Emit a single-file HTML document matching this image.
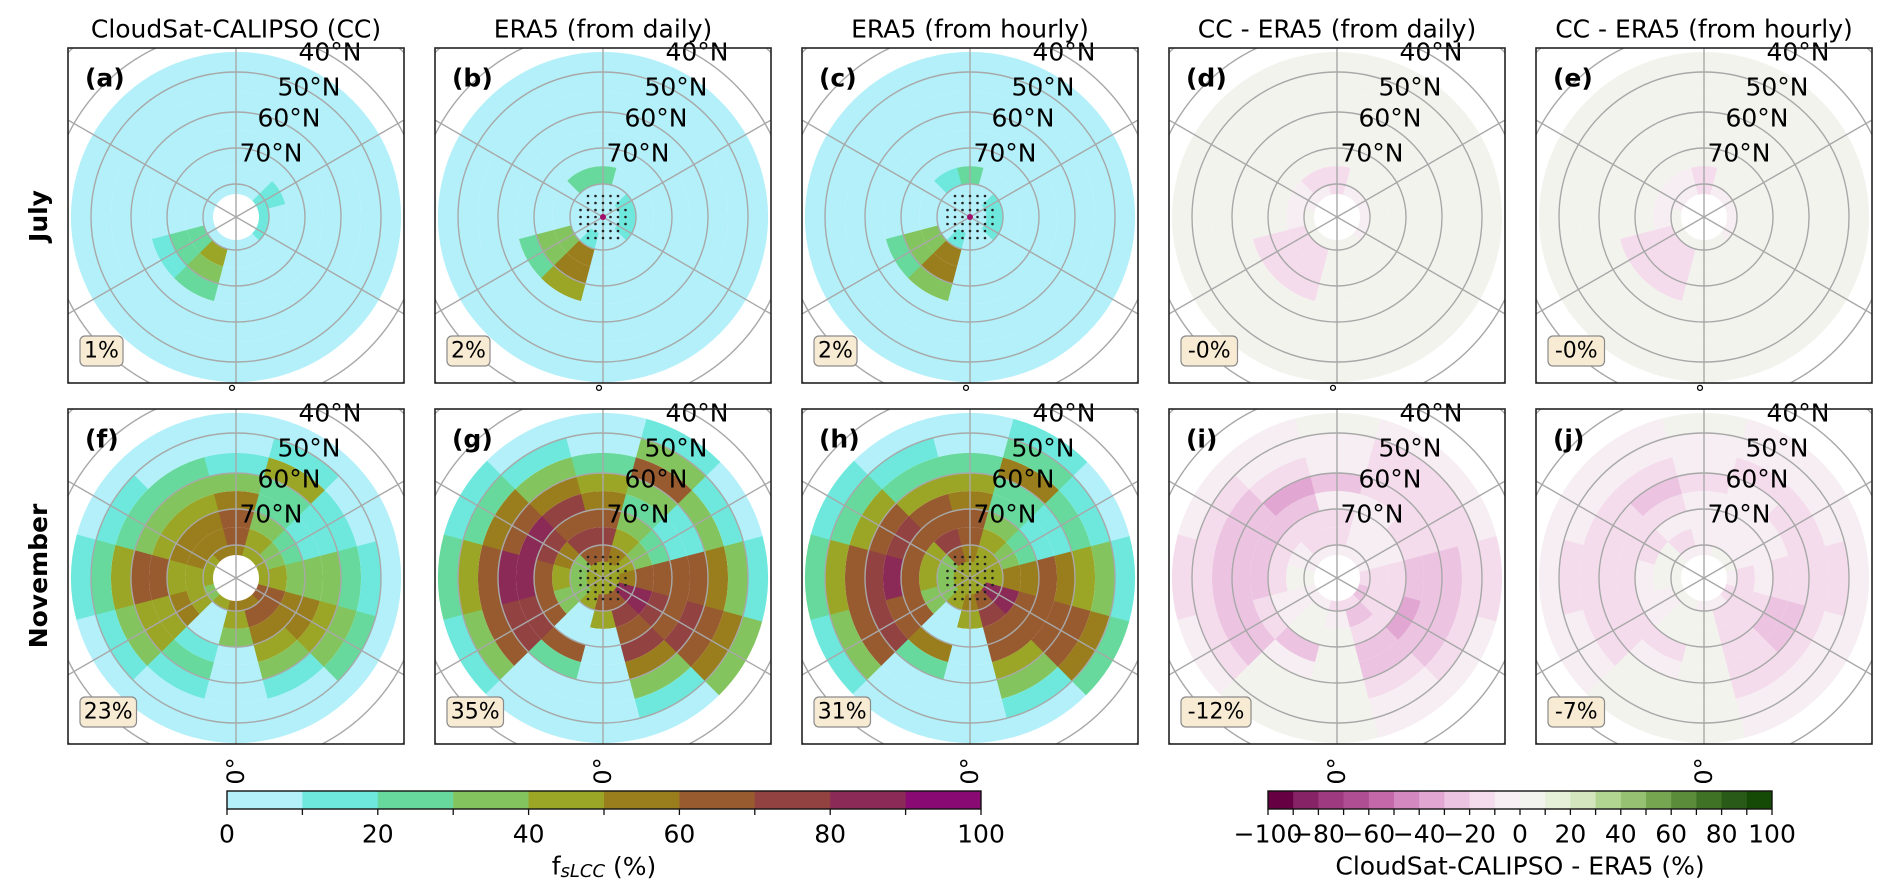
<!DOCTYPE html>
<html><head><meta charset="utf-8">
<style>
html,body{margin:0;padding:0;background:#fff;overflow:hidden;width:1892px;height:896px;}
svg{display:block;font-family:"DejaVu Sans","Liberation Sans",sans-serif;}
</style></head>
<body>
<svg id="fig" width="1892" height="896" viewBox="0 0 1892 896" xmlns="http://www.w3.org/2000/svg">
<defs id="defs"></defs>
<text x="40" y="216" font-size="25" font-weight="bold" text-anchor="middle" dominant-baseline="middle" transform="rotate(-90 40 216)">July</text>
<text x="40" y="576" font-size="25" font-weight="bold" text-anchor="middle" dominant-baseline="middle" transform="rotate(-90 40 576)">November</text>
<g id="panels"></g>
<g id="cbars"></g>
</svg>
<script>
// ---- data: sectors (longitude centres) and latitude ring edges ----
const lonCenters = [0,30,60,90,120,150,180,-150,-120,-90,-60,-30];
const ringEdges = [85,80,75,70,65,60,55,50,45];
const latLabels = ["40°N","50°N","60°N","70°N"];
const fTicks = [0,20,40,60,80,100];
const dTicks = [-100,-80,-60,-40,-20,0,20,40,60,80,100];
const percentLabels = ["1%","2%","2%","-0%","-0%","23%","35%","31%","-12%","-7%"];
const panelTitles = ["CloudSat-CALIPSO (CC)","ERA5 (from daily)","ERA5 (from hourly)","CC - ERA5 (from daily)","CC - ERA5 (from hourly)"];
const panelLetters = ["(a)","(b)","(c)","(d)","(e)","(f)","(g)","(h)","(i)","(j)"];
const centerValues = [null,5,5,null,null,null,45,42,null,null];

const julCC = [
[5,5,5,5,5,5,5,5],[5,5,5,5,5,5,5,5],[10,5,5,5,5,5,5,5],[15,5,5,5,5,5,5,5],
[15,10,5,5,5,5,5,5],[5,5,5,5,5,5,5,5],[5,5,5,5,5,5,5,5],[5,5,5,5,5,5,5,5],
[5,5,5,5,5,5,5,5],[5,5,5,5,5,5,5,5],[5,20,25,15,5,5,5,5],[5,45,35,20,5,5,5,5]];
const julEraDaily = [
[5,5,5,5,5,5,5,5],[5,5,5,5,5,5,5,5],[10,5,5,5,5,5,5,5],[15,5,5,5,5,5,5,5],
[10,5,5,5,5,5,5,5],[5,5,5,5,5,5,5,5],[5,20,5,5,5,5,5,5],[5,20,5,5,5,5,5,5],
[5,5,5,5,5,5,5,5],[5,5,5,5,5,5,5,5],[5,30,35,25,5,5,5,5],[10,55,55,40,5,5,5,5]];
const julEraHourly = [
[5,5,5,5,5,5,5,5],[5,5,5,5,5,5,5,5],[10,5,5,5,5,5,5,5],[15,5,5,5,5,5,5,5],
[10,5,5,5,5,5,5,5],[5,5,5,5,5,5,5,5],[5,20,5,5,5,5,5,5],[5,15,5,5,5,5,5,5],
[5,5,5,5,5,5,5,5],[5,5,5,5,5,5,5,5],[5,30,35,25,5,5,5,5],[10,50,55,35,5,5,5,5]];
const julDiffDaily = [
[0,0,0,0,0,0,0,0],[0,0,0,0,0,0,0,0],[-5,0,0,0,0,0,0,0],[-5,0,0,0,0,0,0,0],
[-5,0,0,0,0,0,0,0],[-5,0,0,0,0,0,0,0],[-15,-15,0,0,0,0,0,0],[-10,-15,0,0,0,0,0,0],
[-5,-5,0,0,0,0,0,0],[0,-5,0,0,0,0,0,0],[0,-15,-15,-15,0,0,0,0],[0,-15,-20,-15,0,0,0,0]];
const julDiffHourly = [
[0,0,0,0,0,0,0,0],[0,0,0,0,0,0,0,0],[-5,0,0,0,0,0,0,0],[-5,0,0,0,0,0,0,0],
[-5,0,0,0,0,0,0,0],[-5,0,0,0,0,0,0,0],[-15,-15,0,0,0,0,0,0],[-10,-10,0,0,0,0,0,0],
[-5,-5,0,0,0,0,0,0],[0,-5,0,0,0,0,0,0],[0,-15,-15,-15,0,0,0,0],[0,-15,-15,-15,0,0,0,0]];
const novCC = [
[50,45,30,5,5,5,5,5],[55,60,50,45,30,15,5,5],[60,65,55,50,45,35,20,8],[45,40,35,35,30,20,15,8],
[40,30,20,15,10,15,8,5],[45,40,30,20,25,40,15,5],[50,60,60,50,30,15,8,5],[50,55,50,45,30,20,8,5],
[45,50,55,45,35,20,10,5],[45,40,45,60,65,45,25,10],[30,40,55,45,40,30,15,5],[40,5,5,15,25,15,5,5]];
const novEraDaily = [
[60,45,5,5,5,5,5,5],[65,75,65,70,50,35,15,5],[85,85,70,65,70,65,55,30],[50,60,60,65,60,50,30,15],
[45,35,20,10,15,30,15,8],[50,45,35,20,30,60,30,10],[60,70,65,50,45,25,5,5],[65,75,65,70,50,30,10,5],
[35,50,70,80,65,50,25,10],[30,45,65,85,80,65,45,20],[30,35,65,70,75,65,30,10],[45,5,5,60,25,5,5,5]];
const novEraHourly = [
[55,45,5,5,5,5,5,5],[60,70,60,65,45,30,15,5],[80,80,65,60,65,60,50,25],[45,55,55,60,55,45,30,15],
[40,30,20,10,15,25,15,5],[45,45,30,20,25,55,25,10],[55,65,60,50,40,20,5,5],[60,70,65,65,45,25,10,5],
[35,45,65,75,60,45,20,10],[30,45,60,80,75,60,40,20],[30,35,60,65,70,60,30,10],[40,5,5,55,20,5,5,5]];
const novDiffDaily = [
[-15,-5,0,0,0,0,0,0],[-15,-25,-20,-30,-25,-20,-10,-5],[-25,-15,-20,-35,-30,-25,-15,-10],[-15,-20,-15,-25,-25,-30,-20,-15],
[-5,-5,-5,-15,-20,-20,-15,-10],[-5,-5,-10,-10,-15,-20,-15,-5],[-10,-15,-15,-10,-25,-10,-5,0],[-10,-20,-15,-25,-35,-20,-10,-5],
[-5,-5,-20,-25,-30,-25,-15,-10],[0,0,-15,-25,-25,-25,-20,-15],[-5,-5,-10,-20,-30,-25,-15,-5],[-5,0,0,-25,-10,0,0,0]];
const novDiffHourly = [
[-5,0,0,0,0,0,0,0],[-10,-15,-15,-20,-15,-15,-10,-5],[-20,-15,-15,-25,-25,-20,-10,-5],[-10,-15,-10,-20,-20,-20,-15,-10],
[0,-5,-5,-10,-15,-15,-10,-5],[0,-5,-5,-10,-10,-15,-10,-5],[-5,-10,-10,-5,-20,-5,-5,0],[-5,-15,-10,-20,-25,-15,-10,-5],
[0,0,-15,-20,-20,-20,-10,-5],[5,0,-10,-20,-20,-20,-15,-10],[0,-5,-10,-15,-20,-20,-10,-5],[0,0,0,-15,-5,0,0,0]];

const fields = [julCC,julEraDaily,julEraHourly,julDiffDaily,julDiffHourly,novCC,novEraDaily,novEraHourly,novDiffDaily,novDiffHourly];

// ---- styles / scales ----
const fColors = ["#b3f0f9","#6ee8dc","#67d99c","#84c45e","#9ba526","#9a7e1e","#985b30","#934242","#8c2a57","#8a0a73"];
const dColors = ["#660042","#862266","#9e3a80","#b04e94","#c468aa","#d488c0","#e1a6d2","#ecc4e2","#f4dcec","#f6eef2","#f3f3ee","#e6efd8","#d3e6be","#b1d692","#96c072","#76a650","#5b8c3a","#407226","#2a5a17","#144a06"];
const latTab = [[90,0],[85,16],[80,33],[75,51],[70,69],[65,87],[60,105],[55,125],[50,145],[45,165],[40,187],[30,235],[20,290]];
function rOf(lat){
  for(let i=0;i<latTab.length-1;i++){
    const a=latTab[i],b=latTab[i+1];
    if(lat<=a[0]&&lat>=b[0]) return a[1]+(b[1]-a[1])*(a[0]-lat)/(a[0]-b[0]);
  }
  return 300;
}
function fColor(v){let i=Math.floor(v/10);i=Math.max(0,Math.min(9,i));return fColors[i];}
function dColor(v){let i=Math.floor((v+100)/10);i=Math.max(0,Math.min(19,i));return dColors[i];}
function pt(cx,cy,r,lonDeg){const a=lonDeg*Math.PI/180;return [cx+r*Math.sin(a),cy+r*Math.cos(a)];}

const NS="http://www.w3.org/2000/svg";
function mk(tag,attrs,parent){const e=document.createElementNS(NS,tag);for(const k in attrs)e.setAttribute(k,attrs[k]);parent.appendChild(e);return e;}

const panelsG=document.getElementById('panels');
const defs=document.getElementById('defs');
const PX0=68, PDX=367, PW=336, PH=335, PY=[48,409];

for(let p=0;p<10;p++){
  const row=Math.floor(p/5), col=p%5;
  const x0=PX0+col*PDX, y0=PY[row];
  const cx=x0+168, cy=y0+169;
  const isDiff=(col>=3), isCC=(col===0);
  const data=fields[p];
  const clip=mk('clipPath',{id:'clip'+p},defs);
  mk('rect',{x:x0,y:y0,width:PW,height:PH},clip);
  const g=mk('g',{'clip-path':'url(#clip'+p+')'},panelsG);
  
  
  for(let s=0;s<lonCenters.length;s++){
    for(let k=0;k<ringEdges.length-1;k++){
      const v=data[s][k];
      const r1=rOf(ringEdges[k]), r2=rOf(ringEdges[k+1]);
      const l1=lonCenters[s]-15.3, l2=lonCenters[s]+15.3;
      const a=pt(cx,cy,r1,l1), b=pt(cx,cy,r1,l2), c=pt(cx,cy,r2,l2), d=pt(cx,cy,r2,l1);
      const path=`M${a[0]},${a[1]} A${r1},${r1} 0 0 0 ${b[0]},${b[1]} L${c[0]},${c[1]} A${r2},${r2} 0 0 1 ${d[0]},${d[1]} Z`;
      const cell=mk('path',{d:path,fill:isDiff?dColor(v):fColor(v)},g);
      
      
    }
  }
  const cv=centerValues[p];
  if(cv===null){
    const hole=mk('circle',{cx:cx,cy:cy,r:23,fill:'#fff'},g);
    
    
  } else {
    const cd=mk('circle',{cx:cx,cy:cy,r:16.5,fill:fColor(cv)},g);
    
    
  }
  [80,70,60,50,40,30,20].forEach(lat=>{
    const c=mk('circle',{cx:cx,cy:cy,r:rOf(lat),fill:'none',stroke:'#a8a8a8','stroke-width':1.4},g);
    
    
  });
  [0,60,120].forEach(lon=>{
    const a=pt(cx,cy,400,lon), b=pt(cx,cy,400,lon+180);
    const l=mk('line',{x1:a[0],y1:a[1],x2:b[0],y2:b[1],stroke:'#a8a8a8','stroke-width':1.4},g);
    
    
  });
  if(col===1||col===2){
    for(let i=-3;i<=3;i++)for(let j=-3;j<=3;j++){
      const dx=i*7.5,dy=j*7;
      if(dx*dx+dy*dy>26*26)continue;
      const dot=mk('circle',{cx:cx+dx,cy:cy+dy,r:1.3,fill:'#222'},g);
      
      
    }
    if(row===0){
      const m=mk('circle',{cx:cx,cy:cy,r:3,fill:'#a0106a'},g);
      
      
    }
  }
  const lx=[94,73,53,35], ly=[-165,-130,-99,-64];
  for(let i=0;i<latLabels.length;i++){
    const t=mk('text',{x:cx+lx[i],y:cy+ly[i],'font-size':25,'text-anchor':'middle','dominant-baseline':'central',fill:'#000'},panelsG);
    t.textContent=latLabels[i];
    
    
  }
  const fr=mk('rect',{x:x0,y:y0,width:PW,height:PH,fill:'none',stroke:'#222','stroke-width':1.6},panelsG);
  
  
  const lt=mk('text',{x:x0+17,y:y0+30,'font-size':25,'font-weight':'bold','dominant-baseline':'central'},panelsG);
  lt.textContent=panelLetters[p];
  
  
  const txt=percentLabels[p];
  const bw=txt.length*13.5+16;
  const bx=mk('rect',{x:x0+12,y:y0+288,width:bw,height:30,rx:5,fill:'#f8ebd3',stroke:'#8a8a8a','stroke-width':1.2},panelsG);
  
  
  const bt=mk('text',{x:x0+12+bw/2,y:y0+303,'font-size':22,'text-anchor':'middle','dominant-baseline':'central'},panelsG);
  bt.textContent=txt;
  
  
  if(row===0){
    const dg=mk('text',{x:cx-4,y:y0+PH+17,'font-size':20,'text-anchor':'middle'},panelsG);
    dg.textContent='°';
    
    
  } else {
    const dg=mk('text',{x:cx,y:y0+PH+27,'font-size':24,'text-anchor':'middle','dominant-baseline':'central',transform:`rotate(-90 ${cx} ${y0+PH+27})`},panelsG);
    dg.textContent='0°';
    
    
  }
  if(row===0){
    const tt=mk('text',{x:cx,y:29,'font-size':25,'text-anchor':'middle','dominant-baseline':'central'},panelsG);
    tt.textContent=panelTitles[col];
    
    
  }
}

const cb=document.getElementById('cbars');
function colorbar(x0,x1,vmin,vmax,colors,ticks,name){
  const y0=791,h=18,n=colors.length,w=(x1-x0)/n;
  const g=mk('g',{},cb);
  
  
  for(let i=0;i<n;i++){
    const r=mk('rect',{x:x0+i*w,y:y0,width:w+0.5,height:h,fill:colors[i]},g);
    
    
  }
  mk('rect',{x:x0,y:y0,width:x1-x0,height:h,fill:'none',stroke:'#111','stroke-width':1.4},g);
  for(let i=0;i<=n;i++){
    mk('line',{x1:x0+i*w,y1:y0+h,x2:x0+i*w,y2:y0+h+6,stroke:'#111','stroke-width':1.3},g);
  }
  ticks.forEach(v=>{
    const x=x0+(v-vmin)/(vmax-vmin)*(x1-x0);
    const t=mk('text',{x:x,y:834,'font-size':25,'text-anchor':'middle','dominant-baseline':'central'},g);
    t.textContent=(v<0?'\u2212'+(-v):String(v));
    
    
  });
  const l=mk('text',{x:(x0+x1)/2,y:866,'font-size':25,'text-anchor':'middle','dominant-baseline':'central'},g);
  
  
  return l;
}
const l1=colorbar(227,981,0,100,fColors,fTicks,'colorbar-fslcc');
l1.innerHTML='f<tspan font-size="18" font-style="italic" dy="5">sLCC</tspan><tspan dy="-5"> (%)</tspan>';
const l2=colorbar(1268,1772,-100,100,dColors,dTicks,'colorbar-difference');
l2.textContent='CloudSat-CALIPSO - ERA5 (%)';
</script>
</body></html>
